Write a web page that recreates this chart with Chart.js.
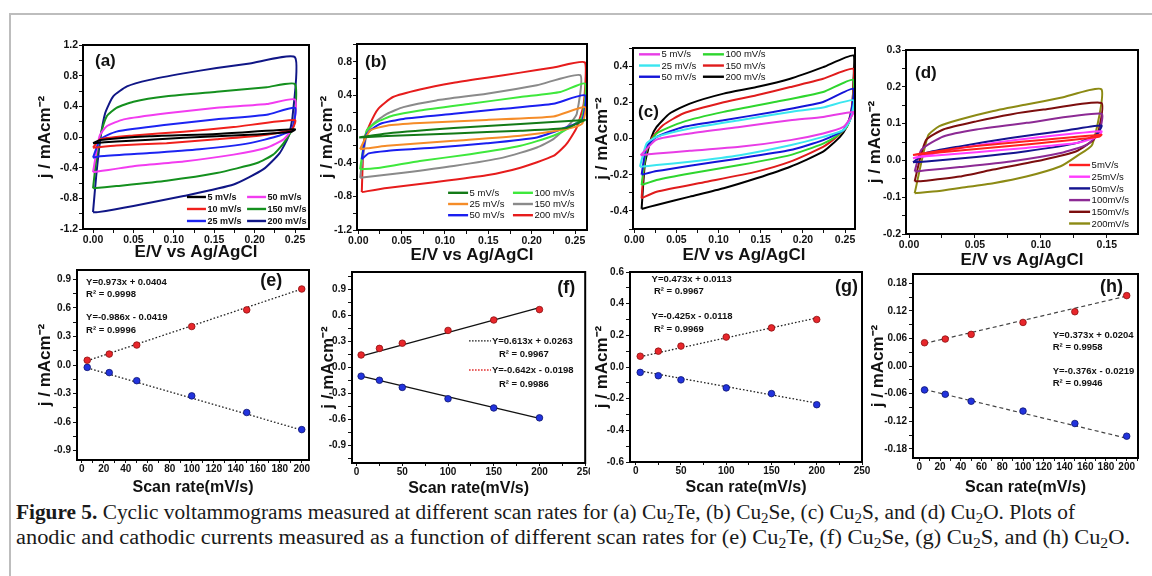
<!DOCTYPE html>
<html><head><meta charset="utf-8">
<script src="https://cdn.jsdelivr.net/npm/chart.js@4.4.1/dist/chart.umd.min.js"></script>
<style>
html,body{margin:0;padding:0;background:#fff;}
body{width:1152px;height:576px;position:relative;overflow:hidden;}
.frame{position:absolute;left:9px;top:13px;width:1200px;height:600px;border-top:2px solid #bdbdbd;border-left:2px solid #bdbdbd;}
canvas{position:absolute;}
.cap{position:absolute;left:16px;font-family:"Liberation Serif","Times New Roman",serif;font-size:20.5px;line-height:20px;color:#1a1a1a;white-space:nowrap;transform-origin:0 50%;}
.cap sub{font-size:70%;vertical-align:-0.25em;line-height:0;}
</style></head>
<body>
<div class="frame"></div>
<div class="cap" id="cap1" style="top:502px"><b>Figure 5.</b> Cyclic voltammograms measured at different scan rates for (a) Cu<sub>2</sub>Te, (b) Cu<sub>2</sub>Se, (c) Cu<sub>2</sub>S, and (d) Cu<sub>2</sub>O. Plots of</div>
<div class="cap" id="cap2" style="top:527px">anodic and cathodic currents measured as a function of different scan rates for (e) Cu<sub>2</sub>Te, (f) Cu<sub>2</sub>Se, (g) Cu<sub>2</sub>S, and (h) Cu<sub>2</sub>O.</div>
<script>
// ---------------- DATA ----------------
// (a) Cu2Te cyclic voltammograms: [E (V), j (mA cm^-2)]
const aLabels = ['5 mV/s','10 mV/s','25 mV/s','50 mV/s','150 mV/s','200 mV/s'];
const a5   = [[0,-0.08],[0.009,-0.04],[0.07,0.01],[0.153,0.04],[0.25,0.10],[0.246,0.07],[0.194,0.03],[0.112,-0.01],[0.029,-0.06],[0,-0.08]];
const a10  = [[0,-0.14],[0.009,-0.03],[0.05,0.02],[0.112,0.07],[0.174,0.13],[0.25,0.22],[0.246,0.10],[0.215,0.03],[0.153,-0.03],[0.091,-0.08],[0.029,-0.11],[0,-0.14]];
const a25  = [[0,-0.27],[0.009,-0.03],[0.029,0.07],[0.091,0.16],[0.153,0.23],[0.215,0.29],[0.25,0.38],[0.246,0.10],[0.231,0.02],[0.194,-0.08],[0.132,-0.16],[0.07,-0.21],[0.009,-0.25],[0,-0.27]];
const a50  = [[0,-0.46],[0.008,0.01],[0.017,0.14],[0.038,0.23],[0.091,0.31],[0.153,0.38],[0.215,0.43],[0.25,0.49],[0.248,0.14],[0.236,-0.03],[0.215,-0.14],[0.174,-0.23],[0.112,-0.32],[0.05,-0.38],[0,-0.46]];
const a150 = [[0,-0.67],[0.004,-0.3],[0.009,0.01],[0.017,0.27],[0.029,0.38],[0.05,0.46],[0.091,0.53],[0.153,0.59],[0.215,0.65],[0.25,0.69],[0.248,0.14],[0.236,-0.08],[0.223,-0.23],[0.203,-0.34],[0.153,-0.47],[0.091,-0.57],[0.029,-0.64],[0,-0.67]];
const a200 = [[0,-0.98],[0.004,-0.5],[0.009,-0.03],[0.015,0.31],[0.025,0.53],[0.042,0.66],[0.07,0.745],[0.112,0.83],[0.153,0.90],[0.194,0.96],[0.25,1.04],[0.247,0.27],[0.242,0.01],[0.231,-0.21],[0.211,-0.42],[0.174,-0.62],[0.112,-0.77],[0.05,-0.90],[0.006,-0.98],[0,-0.98]];

// (b) Cu2Se
const bLabels = ['5 mV/s','25 mV/s','50 mV/s','100 mV/s','150 mV/s','200 mV/s'];
const b5   = [[0.001,-0.10],[0.033,-0.052],[0.11,0.012],[0.187,0.06],[0.2615,0.108],[0.258,0.092],[0.24,0.012],[0.187,-0.02],[0.11,-0.052],[0.033,-0.084],[0.001,-0.10]];
const b25  = [[0.002,-0.24],[0.0135,-0.02],[0.033,0.04],[0.071,0.07],[0.148,0.108],[0.225,0.148],[0.2615,0.26],[0.258,0.06],[0.24,0.0],[0.187,-0.08],[0.11,-0.14],[0.033,-0.20],[0.01,-0.23],[0.002,-0.24]];
const b50  = [[0.004,-0.36],[0.0096,-0.06],[0.025,0.06],[0.052,0.12],[0.11,0.18],[0.167,0.24],[0.225,0.30],[0.2615,0.40],[0.258,0.10],[0.24,0.02],[0.206,-0.10],[0.148,-0.17],[0.09,-0.22],[0.033,-0.26],[0.012,-0.29],[0.004,-0.36]];
const b100 = [[0.002,-0.48],[0.0096,-0.02],[0.021,0.08],[0.040,0.16],[0.071,0.22],[0.129,0.30],[0.187,0.38],[0.233,0.44],[0.2615,0.54],[0.258,0.14],[0.244,0.02],[0.225,-0.08],[0.187,-0.20],[0.129,-0.30],[0.071,-0.38],[0.025,-0.46],[0.002,-0.48]];
const b150 = [[0.002,-0.58],[0.0096,-0.06],[0.017,0.06],[0.033,0.18],[0.052,0.26],[0.09,0.34],[0.148,0.42],[0.206,0.52],[0.256,0.64],[0.252,0.18],[0.244,0.06],[0.225,-0.12],[0.206,-0.22],[0.167,-0.34],[0.11,-0.44],[0.052,-0.52],[0.002,-0.58]];
const b200 = [[0.004,-0.75],[0.0065,-0.14],[0.0135,0.06],[0.023,0.24],[0.040,0.38],[0.071,0.47],[0.110,0.55],[0.148,0.61],[0.187,0.67],[0.225,0.73],[0.2615,0.79],[0.26,0.30],[0.252,0.02],[0.24,-0.18],[0.225,-0.32],[0.187,-0.46],[0.148,-0.55],[0.09,-0.63],[0.033,-0.70],[0.004,-0.75]];

// (c) Cu2S
const cLabels = ['5 mV/s','25 mV/s','50 mV/s','100 mV/s','150 mV/s','200 mV/s'];
const c5   = [[0.0075,-0.092],[0.0265,-0.006],[0.066,0.028],[0.125,0.064],[0.185,0.101],[0.224,0.119],[0.26,0.147],[0.256,0.11],[0.248,0.064],[0.224,0.028],[0.185,-0.009],[0.125,-0.046],[0.066,-0.068],[0.0265,-0.083],[0.0075,-0.092]];
const c25  = [[0.0067,-0.156],[0.0146,-0.028],[0.0265,0.009],[0.066,0.055],[0.125,0.101],[0.185,0.147],[0.224,0.171],[0.26,0.211],[0.256,0.101],[0.248,0.046],[0.224,0.009],[0.185,-0.037],[0.125,-0.092],[0.066,-0.128],[0.0265,-0.147],[0.0067,-0.156]];
const c50  = [[0.0087,-0.20],[0.0146,-0.046],[0.0265,0.009],[0.058,0.064],[0.106,0.101],[0.165,0.147],[0.224,0.202],[0.26,0.275],[0.256,0.119],[0.248,0.046],[0.224,-0.009],[0.185,-0.064],[0.125,-0.11],[0.066,-0.15],[0.0265,-0.18],[0.0087,-0.20]];
const c100 = [[0.0087,-0.257],[0.0146,-0.064],[0.0265,0.028],[0.058,0.092],[0.106,0.147],[0.165,0.20],[0.224,0.257],[0.26,0.325],[0.258,0.138],[0.252,0.064],[0.24,0.013],[0.224,-0.028],[0.185,-0.092],[0.125,-0.147],[0.066,-0.193],[0.0265,-0.229],[0.0087,-0.257]];
const c150 = [[0.0087,-0.33],[0.0127,-0.10],[0.0206,0.0],[0.034,0.073],[0.058,0.138],[0.106,0.20],[0.145,0.239],[0.185,0.284],[0.224,0.33],[0.26,0.385],[0.258,0.174],[0.252,0.064],[0.24,0.009],[0.224,-0.046],[0.185,-0.128],[0.145,-0.183],[0.086,-0.239],[0.0265,-0.294],[0.0087,-0.33]];
const c200 = [[0.0087,-0.389],[0.0127,-0.138],[0.0206,0.009],[0.0265,0.064],[0.042,0.138],[0.066,0.193],[0.106,0.248],[0.145,0.284],[0.185,0.33],[0.224,0.394],[0.26,0.459],[0.26,0.321],[0.258,0.138],[0.252,0.064],[0.244,0.009],[0.224,-0.073],[0.185,-0.156],[0.145,-0.22],[0.106,-0.275],[0.066,-0.321],[0.0265,-0.367],[0.0087,-0.389]];

// (d) Cu2O
const dLabels = ['5mV/s','25mV/s','50mV/s','100mV/s','150mV/s','200mV/s'];
const d5   = [[0.003,0.015],[0.0385,0.034],[0.089,0.052],[0.146,0.07],[0.144,0.064],[0.089,0.043],[0.0385,0.027],[0.003,0.015]];
const d25  = [[0.003,0.006],[0.026,0.025],[0.064,0.047],[0.102,0.064],[0.146,0.079],[0.144,0.066],[0.127,0.047],[0.089,0.034],[0.051,0.022],[0.013,0.011],[0.003,0.006]];
const d50  = [[0.003,-0.005],[0.013,0.02],[0.0385,0.038],[0.077,0.061],[0.115,0.079],[0.146,0.095],[0.142,0.07],[0.127,0.047],[0.089,0.025],[0.051,0.009],[0.013,-0.003],[0.003,-0.005]];
const d100 = [[0.0043,-0.03],[0.0094,0.029],[0.026,0.065],[0.051,0.084],[0.089,0.102],[0.146,0.127],[0.144,0.075],[0.135,0.043],[0.115,0.02],[0.077,-0.003],[0.0385,-0.018],[0.013,-0.027],[0.0043,-0.03]];
const d150 = [[0.0043,-0.057],[0.008,0.0],[0.013,0.056],[0.026,0.084],[0.051,0.106],[0.077,0.125],[0.102,0.138],[0.146,0.156],[0.144,0.084],[0.14,0.056],[0.127,0.025],[0.102,0.002],[0.064,-0.025],[0.0385,-0.044],[0.013,-0.055],[0.0043,-0.057]];
const d200 = [[0.0043,-0.089],[0.0144,0.067],[0.023,0.093],[0.0385,0.111],[0.064,0.134],[0.089,0.152],[0.115,0.17],[0.146,0.193],[0.139,0.043],[0.127,0.011],[0.115,-0.016],[0.089,-0.044],[0.064,-0.062],[0.0385,-0.075],[0.023,-0.083],[0.0043,-0.089]];

// (e)-(h) peak currents vs scan rate
const scanRates = [5, 25, 50, 100, 150, 200];
const eAnodic   = [0.05, 0.115, 0.21, 0.405, 0.58, 0.80];
const eCathodic = [-0.025, -0.08, -0.165, -0.325, -0.50, -0.68];
const fAnodic   = [0.144, 0.22, 0.28, 0.427, 0.547, 0.667];
const fCathodic = [-0.10, -0.147, -0.229, -0.36, -0.466, -0.58];
const gAnodic   = [0.068, 0.10, 0.132, 0.189, 0.247, 0.30];
const gCathodic = [-0.034, -0.055, -0.081, -0.132, -0.168, -0.238];
const hAnodic   = [0.0506, 0.0586, 0.0687, 0.0947, 0.118, 0.153];
const hCathodic = [-0.052, -0.0615, -0.0766, -0.098, -0.125, -0.1526];
// fitted lines (end points at 5 and 200 mV/s)
const fitX = [5, 200];
const eFitA = [0.045, 0.80],  eFitC = [-0.03, -0.685];
const fFitA = [0.13, 0.69],   fFitC = [-0.10, -0.585];
const gFitA = [0.065, 0.31],  gFitC = [-0.025, -0.228];
const hFitA = [0.049, 0.152], hFitC = [-0.051, -0.157];
const eNotes = ['Y=0.973x + 0.0404','R² = 0.9998','Y=-0.986x - 0.0419','R² = 0.9996'];
const fNotes = ['Y=0.613x + 0.0263','R² = 0.9967','Y=-0.642x - 0.0198','R² = 0.9986'];
const gNotes = ['Y=0.473x + 0.0113','R² = 0.9967','Y=-0.425x - 0.0118','R² = 0.9969'];
const hNotes = ['Y=0.373x + 0.0204','R² = 0.9958','Y=-0.376x - 0.0219','R² = 0.9946'];

// tick labels
const cvXTicks = [0, 0.05, 0.10, 0.15, 0.20, 0.25];
const dXTicks  = [0, 0.05, 0.10, 0.15];
const aYTicks  = [-1.2, -0.8, -0.4, 0, 0.4, 0.8, 1.2];
const bYTicks  = [-1.2, -0.8, -0.4, 0, 0.4, 0.8];
const cYTicks  = [-0.4, -0.2, 0, 0.2, 0.4];
const dYTicks  = [-0.2, -0.1, 0, 0.1, 0.2, 0.3];
const rate20Ticks = [0, 20, 40, 60, 80, 100, 120, 140, 160, 180, 200];
const rate50Ticks = [0, 50, 100, 150, 200, 250];
const efYTicks = [-0.9, -0.6, -0.3, 0, 0.3, 0.6, 0.9];
const gYTicks  = [-0.6, -0.4, -0.2, 0, 0.2, 0.4, 0.6];
const hYTicks  = [-0.18, -0.12, -0.06, 0, 0.06, 0.12, 0.18];

const cvTitleX = 'E/V vs Ag/AgCl';
const rateTitleX = 'Scan rate(mV/s)';
const titleY = 'j / mAcm⁻²';

// ---------------- RENDER ----------------
const FONT = '"Liberation Sans", Arial, Helvetica, sans-serif';
Chart.defaults.font.family = FONT;
const Y_W = 60, X_H = 44, PAD_T = 10;

function minors(major, min, max) {
  const out = [];
  const st = major[1] - major[0];
  for (let i = 0; i < major.length - 1; i++) out.push((major[i] + major[i+1]) / 2);
  out.push(major[0] - st/2, major[major.length-1] + st/2);
  return out.filter(v => v > min - 1e-9 && v < max + 1e-9);
}

function axis(o) {
  const isX = o.isX;
  const all = o.major.concat(minors(o.major, o.min, o.max)).sort((p, q) => p - q);
  const lh = o.titleSize * 1.2;
  return {
    type: 'linear', position: isX ? 'bottom' : 'left', min: o.min, max: o.max,
    afterBuildTicks: s => { s.ticks = all.map(v => ({ value: v })); },
    afterFit: s => {
      if (isX) { s.height = X_H; s.paddingLeft = 0; s.paddingRight = 0; }
      else { s.width = Y_W; s.paddingTop = 0; s.paddingBottom = 0; }
    },
    grid: { drawOnChartArea: false, drawTicks: true, tickLength: o.tl, tickColor: '#111', tickWidth: 1 },
    border: { display: false },
    ticks: {
      autoSkip: false, maxRotation: 0, minRotation: 0, padding: o.pad, color: '#111',
      font: { family: FONT, size: o.fontSize, weight: 'bold' },
      callback: v => o.major.some(m => Math.abs(m - v) < 1e-9) ? Number(v).toFixed(o.dec) : ''
    },
    title: {
      display: true, text: o.title, color: '#111',
      font: { family: FONT, size: o.titleSize, weight: 'bold', lineHeight: 1.2 },
      padding: isX ? { top: 0, bottom: Math.max(0, X_H - o.titleOff - lh/2) }
                   : { top: Math.max(0, Y_W - o.titleOff - lh/2), bottom: 0 }
    }
  };
}

function cvSets(series, labels, colors) {
  return series.map((s, i) => ({
    label: labels[i], data: s.map(([x, y]) => ({ x, y })), showLine: true,
    borderColor: colors[i], backgroundColor: colors[i], borderWidth: 2, pointRadius: 0,
    tension: 0.18, fill: false
  }));
}

function rateSets(an, ca, fa, fc, fitStyle) {
  const pt = (arr, fillC, edgeC) => ({
    data: scanRates.map((x, i) => ({ x, y: arr[i] })), showLine: false,
    pointRadius: 3.3, pointBackgroundColor: fillC, pointBorderColor: edgeC, pointBorderWidth: 0.8
  });
  const ln = (arr, col) => ({
    data: fitX.map((x, i) => ({ x, y: arr[i] })), showLine: true, pointRadius: 0,
    borderColor: col || fitStyle.color, borderWidth: fitStyle.width, borderDash: fitStyle.dash
  });
  return [pt(an, '#e8262b', '#8c1010'), pt(ca, '#2233dd', '#0c1470'), ln(fa), ln(fc)];
}

function overlay(p) {
  return {
    id: 'overlay_' + p.id,
    afterDatasetsDraw(chart) {
      const { ctx, chartArea: a } = chart;
      const W = a.right - a.left, H = a.bottom - a.top;
      ctx.save();
      ctx.strokeStyle = '#000'; ctx.lineWidth = 2;
      ctx.strokeRect(a.left, a.top, W, H);
      (p.notes || []).forEach(n => {
        const x = a.left + n.fx * W, y = a.top + n.fy * H;
        if (n.fx2 !== undefined) {
          ctx.beginPath(); ctx.setLineDash(n.dash || []); ctx.strokeStyle = n.color; ctx.lineWidth = 1.3;
          ctx.moveTo(x, y); ctx.lineTo(a.left + n.fx2 * W, y); ctx.stroke(); ctx.setLineDash([]);
          return;
        }
        ctx.font = n.font; ctx.fillStyle = n.color || '#111';
        ctx.textAlign = n.align || 'left'; ctx.textBaseline = 'middle';
        ctx.fillText(n.text, x, y);
      });
      if (p.legend) {
        const L = p.legend;
        chart.data.datasets.forEach((d, i) => {
          const col = Math.floor(i / L.rows), row = i % L.rows;
          const x = a.left + (L.fx + col * L.colDx) * W, y = a.top + L.fy * H + row * L.rowDy;
          ctx.beginPath(); ctx.strokeStyle = d.borderColor; ctx.lineWidth = 2.4;
          ctx.moveTo(x, y); ctx.lineTo(x + L.len, y); ctx.stroke();
          ctx.font = L.font; ctx.fillStyle = '#111'; ctx.textAlign = 'left'; ctx.textBaseline = 'middle';
          ctx.fillText(d.label, x + L.len + 1.5, y + 0.5);
        });
      }
      ctx.restore();
    }
  };
}

const TAGF = 'bold 17px ' + FONT, TAGF2 = 'bold 18px ' + FONT;
const NOTEF = 'bold 9.5px ' + FONT;

const panels = [
  { id: 'a', box: [83, 45, 309, 229], padR: 12, row: 0,
    x: { min: -0.0124, max: 0.2673, major: cvXTicks, dec: 2, title: cvTitleX, titleOff: 23 },
    y: { min: -1.2, max: 1.2, major: aYTicks, dec: 1, titleOff: 38 },
    sets: cvSets([a5, a10, a25, a50, a150, a200], aLabels, ['#000000', '#f0201c', '#1c24f2', '#f23cf0', '#14901e', '#101686']),
    legend: { fx: 0.46, fy: 0.826, colDx: 0.266, rowDy: 12, rows: 3, len: 19, font: 'bold 9px ' + FONT },
    notes: [{ text: '(a)', fx: 0.053, fy: 0.087, font: TAGF }] },
  { id: 'b', box: [357, 44, 587, 230], padR: 12, row: 0,
    x: { min: -0.0015, max: 0.2638, major: cvXTicks, dec: 2, title: cvTitleX, titleOff: 25 },
    y: { min: -1.2, max: 1.01, major: bYTicks, dec: 1, titleOff: 30 },
    sets: cvSets([b5, b25, b50, b100, b150, b200], bLabels, ['#137a17', '#f58c28', '#1a1ef0', '#3ee83c', '#8a8a8a', '#e61c1c']),
    legend: { fx: 0.396, fy: 0.80, colDx: 0.282, rowDy: 11.2, rows: 3, len: 20, font: '9.5px ' + FONT },
    notes: [{ text: '(b)', fx: 0.035, fy: 0.10, font: TAGF }] },
  { id: 'c', box: [633, 48, 855, 229], padR: 12, row: 0,
    x: { min: -0.0015, max: 0.2618, major: cvXTicks, dec: 2, title: cvTitleX, titleOff: 26 },
    y: { min: -0.5, max: 0.5, major: cYTicks, dec: 1, titleOff: 31 },
    sets: cvSets([c5, c25, c50, c100, c150, c200], cLabels, ['#e83ce6', '#3ae6f0', '#1414d8', '#2ed62e', '#e01c1c', '#000000']),
    legend: { fx: 0.027, fy: 0.035, colDx: 0.288, rowDy: 11.2, rows: 3, len: 21, font: '9.5px ' + FONT },
    notes: [{ text: '(c)', fx: 0.023, fy: 0.354, font: TAGF }] },
  { id: 'd', box: [906, 50, 1138, 234], padR: 12, row: 0,
    x: { min: -0.0023, max: 0.1737, major: dXTicks, dec: 2, title: cvTitleX, titleOff: 26 },
    y: { min: -0.2, max: 0.3, major: dYTicks, dec: 1, titleOff: 31 },
    sets: cvSets([d5, d25, d50, d100, d150, d200], dLabels, ['#ff2020', '#ff3cff', '#141490', '#8c2a94', '#7c0e0e', '#8c8a14']),
    legend: { fx: 0.703, fy: 0.625, colDx: 0, rowDy: 11.7, rows: 6, len: 21, font: '9.5px ' + FONT },
    notes: [{ text: '(d)', fx: 0.039, fy: 0.125, font: TAGF }] },
  { id: 'e', box: [77, 270, 309, 460], padR: 12, row: 1,
    x: { min: -4.3, max: 206.6, major: rate20Ticks, dec: 0, title: rateTitleX, titleOff: 28 },
    y: { min: -1.0, max: 1.0, major: efYTicks, dec: 1, titleOff: 32 },
    sets: rateSets(eAnodic, eCathodic, eFitA, eFitC, { color: '#222', width: 1.3, dash: [1.6, 2] }),
    notes: [
      { text: '(e)', fx: 0.885, fy: 0.058, font: TAGF2, align: 'right' },
      { text: eNotes[0], fx: 0.039, fy: 0.063, font: NOTEF },
      { text: eNotes[1], fx: 0.039, fy: 0.126, font: NOTEF },
      { text: eNotes[2], fx: 0.039, fy: 0.247, font: NOTEF },
      { text: eNotes[3], fx: 0.039, fy: 0.316, font: NOTEF }] },
  { id: 'f', box: [352, 272, 587, 463], padR: 3, row: 1,
    x: { min: -5, max: 250, major: rate50Ticks, dec: 0, title: rateTitleX, titleOff: 26 },
    y: { min: -1.1, max: 1.1, major: efYTicks, dec: 1, titleOff: 24 },
    sets: rateSets(fAnodic, fCathodic, fFitA, fFitC, { color: '#111', width: 1.3, dash: [] }),
    notes: [
      { text: '(f)', fx: 0.957, fy: 0.084, font: TAGF2, align: 'right' },
      { fx: 0.502, fx2: 0.596, fy: 0.361, color: '#111', dash: [1.5, 1.5] },
      { text: fNotes[0], fx: 0.60, fy: 0.361, font: NOTEF },
      { text: fNotes[1], fx: 0.63, fy: 0.43, font: NOTEF },
      { fx: 0.502, fx2: 0.596, fy: 0.513, color: '#e02020', dash: [1.5, 1.5] },
      { text: fNotes[2], fx: 0.60, fy: 0.513, font: NOTEF },
      { text: fNotes[3], fx: 0.63, fy: 0.586, font: NOTEF }] },
  { id: 'g', box: [630, 272, 862, 462], padR: 12, row: 1,
    x: { min: -6.3, max: 250, major: rate50Ticks, dec: 0, title: rateTitleX, titleOff: 26 },
    y: { min: -0.6, max: 0.6, major: gYTicks, dec: 1, titleOff: 28 },
    sets: rateSets(gAnodic, gCathodic, gFitA, gFitC, { color: '#222', width: 1.3, dash: [1.6, 2] }),
    notes: [
      { text: '(g)', fx: 0.983, fy: 0.079, font: TAGF2, align: 'right' },
      { text: gNotes[0], fx: 0.093, fy: 0.037, font: NOTEF },
      { text: gNotes[1], fx: 0.103, fy: 0.104, font: NOTEF },
      { text: gNotes[2], fx: 0.093, fy: 0.232, font: NOTEF },
      { text: gNotes[3], fx: 0.103, fy: 0.30, font: NOTEF }] },
  { id: 'h', box: [913, 274, 1138, 458], padR: 12, row: 1,
    x: { min: -6.1, max: 210.9, major: rate20Ticks, dec: 0, title: rateTitleX, titleOff: 30 },
    y: { min: -0.2, max: 0.2, major: hYTicks, dec: 2, titleOff: 35 },
    sets: rateSets(hAnodic, hCathodic, hFitA, hFitC, { color: '#444', width: 1.2, dash: [4, 3] }),
    notes: [
      { text: '(h)', fx: 0.933, fy: 0.07, font: TAGF2, align: 'right' },
      { text: hNotes[0], fx: 0.621, fy: 0.335, font: NOTEF },
      { text: hNotes[1], fx: 0.621, fy: 0.40, font: NOTEF },
      { text: hNotes[2], fx: 0.621, fy: 0.527, font: NOTEF },
      { text: hNotes[3], fx: 0.621, fy: 0.592, font: NOTEF }] }
];

panels.forEach(p => {
  const [l, t, r, b] = p.box;
  const w = (r - l) + Y_W + p.padR, h = (b - t) + PAD_T + X_H;
  const c = document.createElement('canvas');
  c.width = w; c.height = h;
  c.style.left = (l - Y_W) + 'px'; c.style.top = (t - PAD_T) + 'px';
  c.style.width = w + 'px'; c.style.height = h + 'px';
  document.body.appendChild(c);
  const top = p.row === 0;
  const xs = axis(Object.assign({ isX: true, tl: top ? 4 : 3, pad: top ? 0.7 : 0, fontSize: top ? 10.5 : 10, titleSize: top ? 17 : 16 }, p.x));
  const ys = axis(Object.assign({ isX: false, tl: 4, pad: top ? 1 : 2, fontSize: top ? 10.5 : 10, titleSize: 17, title: titleY }, p.y));
  new Chart(c, {
    type: 'scatter',
    data: { datasets: p.sets },
    options: {
      responsive: false, animation: false, devicePixelRatio: 1,
      layout: { padding: { left: 0, top: PAD_T, right: p.padR, bottom: 0 } },
      plugins: { legend: { display: false }, tooltip: { enabled: false } },
      events: [],
      scales: { x: xs, y: ys }
    },
    plugins: [overlay(p)]
  });
});

// fit caption lines to the reference widths
[['cap1', 1059], ['cap2', 1114]].forEach(([id, target]) => {
  const el = document.getElementById(id);
  const wNow = el.getBoundingClientRect().width;
  el.style.transform = 'scaleX(' + (target / wNow).toFixed(4) + ')';
});
</script>
</body></html>
